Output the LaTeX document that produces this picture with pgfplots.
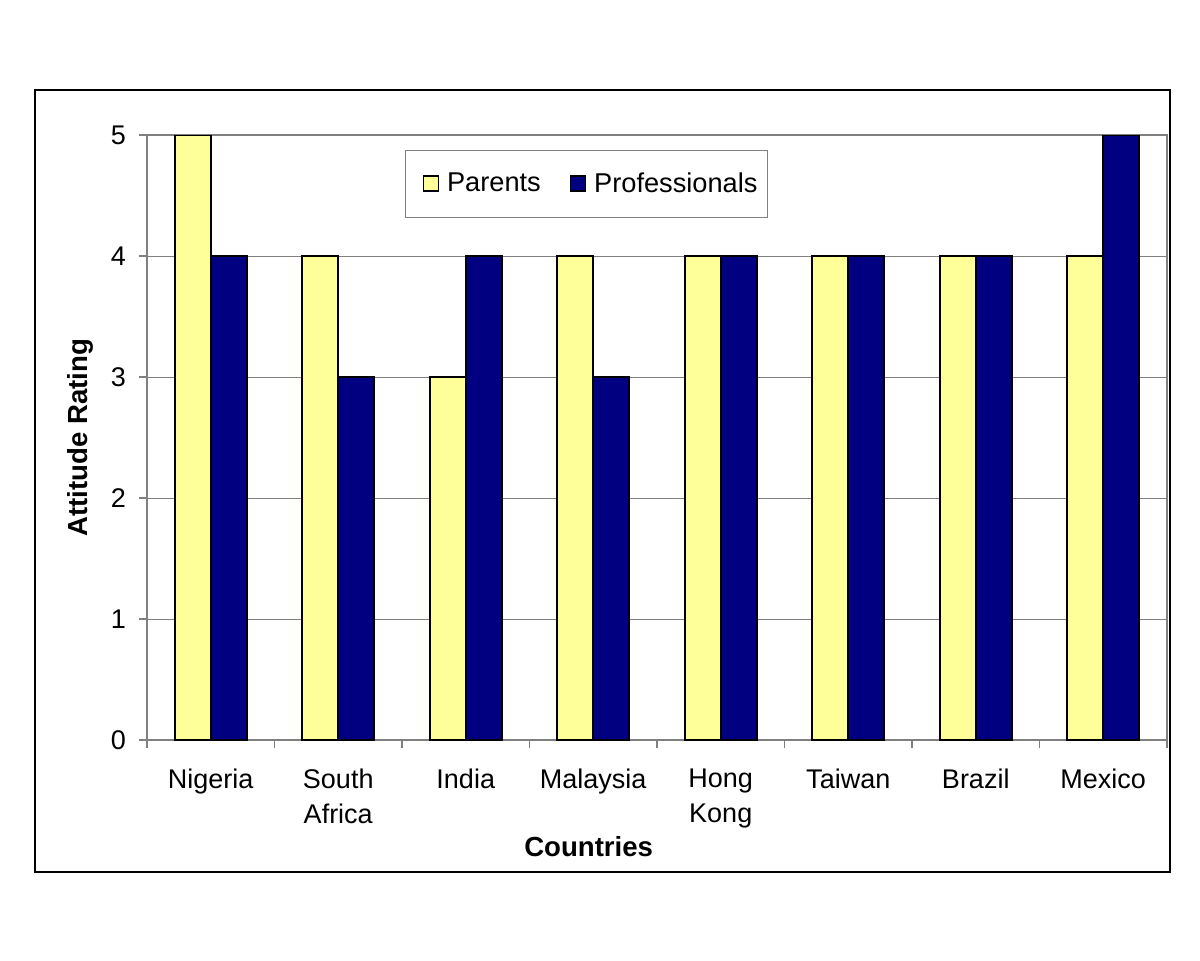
\documentclass[border=0pt]{standalone}
\usepackage{pgfplots}
\pgfplotsset{compat=1.18}
\usepackage{fontspec}
\setmainfont{Liberation Sans}

\definecolor{parents}{HTML}{FFFF99}
\definecolor{profs}{HTML}{000080}
\definecolor{axgray}{HTML}{808080}

\begin{document}
\begin{tikzpicture}
  \useasboundingbox (0,0) rectangle (600pt,480pt);
  \draw[line width=1.2pt] (17.5pt,44pt) rectangle (585pt,435pt);
  \begin{axis}[
      at={(73.5pt,110pt)}, anchor=south west,
      scale only axis, width=510pt, height=302.5pt,
      ymin=0, ymax=5, xmin=-0.5, xmax=7.5,
      ytick={0,1,2,3,4,5},
      xtick={0,...,7},
      xticklabels={Nigeria,South\\Africa,India,Malaysia,Hong\\Kong,Taiwan,Brazil,Mexico},
      minor xtick={-0.5,0.5,...,7.5},
      major x tick style={draw=none},
      minor x tick style={axgray, line width=0.6pt},
      minor tick length=4pt, major tick length=4pt,
      y tick style={axgray, line width=0.6pt},
      tick align=outside,
      xtick pos=bottom, ytick pos=left,
      axis line style={axgray, line width=0.6pt},
      ymajorgrids, grid style={axgray, line width=0.5pt},
      /pgf/number format/assume math mode=true,
      ticklabel style={font=\fontsize{13.5}{17.5}\selectfont},
      xticklabel style={align=center, anchor=north, yshift=-7pt},
      yticklabel style={xshift=-3pt},
      xlabel={Countries}, ylabel={Attitude Rating},
      label style={font=\fontsize{13.8}{16}\selectfont\bfseries},
      xlabel style={at={(axis description cs:0.433,-0.177)}, anchor=center},
      ylabel style={at={(axis description cs:-0.0657,0.5)}, anchor=center},
      ybar, bar width=18pt,
      legend style={at={(rel axis cs:0.253,0.975)}, anchor=north west,
        legend columns=2, draw=axgray, line width=0.6pt,
        font=\fontsize{13.6}{16}\selectfont,
        inner xsep=1pt, inner ysep=9pt,
        /tikz/every even column/.append style={column sep=3pt}},
      legend image code/.code={\path (-7.5pt,0pt); \draw[#1, draw=black, line width=0.6pt] (0pt,-3.5pt) rectangle (7.5pt,4pt);},
      legend cell align=left,
      legend style={nodes={inner xsep=4pt}},
    ]
    \addplot[fill=parents, draw=black, line width=0.8pt, bar shift=-9pt] coordinates {(0,5) (1,4) (2,3) (3,4) (4,4) (5,4) (6,4) (7,4)};
    \addplot[fill=profs, draw=black, line width=0.8pt, bar shift=9pt] coordinates {(0,4) (1,3) (2,4) (3,3) (4,4) (5,4) (6,4) (7,5)};
    \legend{Parents,Professionals}
  \end{axis}
\end{tikzpicture}
\end{document}
